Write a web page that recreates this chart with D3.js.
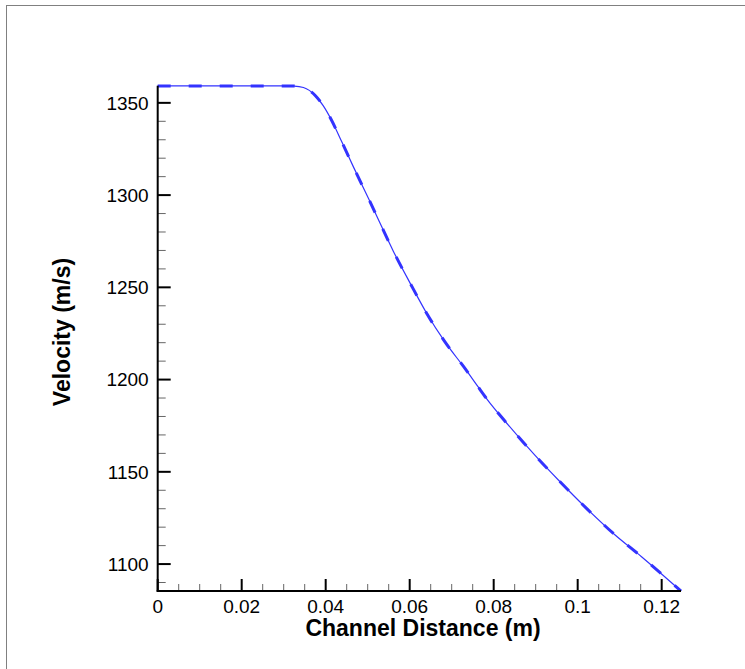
<!DOCTYPE html>
<html lang="en">
<head>
    <meta charset="UTF-8">
    <title>Velocity against Channel Distance</title>
    <script src="https://d3js.org/d3.v7.min.js"></script>
    <style>
        body { margin: 0; background: #fff; }
        .tick-label { font: 19px "Liberation Sans", Arial, sans-serif; fill: #000; }
        .axis-label { font: bold 23px "Liberation Sans", Arial, sans-serif; fill: #000; }
    </style>
</head>
<body>
    <script>
        // channel distance (m) and velocity (m/s)
        const distance = [0, 0.01, 0.02, 0.03, 0.0325, 0.0347, 0.0375, 0.0394, 0.0414, 0.0438,
                          0.0466, 0.0506, 0.0529, 0.0561, 0.0601, 0.0641, 0.0684, 0.0732,
                          0.0763, 0.0783, 0.0835, 0.0898, 0.0958, 0.1021, 0.1085, 0.1152, 0.1246]
        const velocity = [1359.2, 1359.2, 1359.2, 1359.2, 1359.1, 1358.3, 1354.0, 1348.5, 1340.6, 1329.0,
                          1315.3, 1296.2, 1285.0, 1269.6, 1252.3, 1235.7, 1220.4, 1205.9,
                          1196.0, 1189.7, 1175.3, 1159.0, 1144.6, 1130.2, 1116.6, 1104.0, 1085.4]

        const xTicks = [0, 0.02, 0.04, 0.06, 0.08, 0.1, 0.12]
        const xTickLabels = ["0", "0.02", "0.04", "0.06", "0.08", "0.1", "0.12"]
        const yTicks = [1100, 1150, 1200, 1250, 1300, 1350]

        const W = 745, H = 669
        const plotLeft = 157.7, plotRight = 681, plotTop = 85.7, plotBottom = 591

        const svg = d3.select("body").append("svg")
            .attr("width", W)
            .attr("height", H)

        // frame
        svg.append("rect")
            .attr("x", 6.5).attr("y", 5.5)
            .attr("width", W + 20).attr("height", H + 20)
            .attr("fill", "none")
            .attr("stroke", "#808080")
            .attr("stroke-width", 1)

        const x = d3.scaleLinear().domain([0, 0.1246]).range([plotLeft, plotRight])
        const y = d3.scaleLinear().domain([1085.4, 1359.3]).range([plotBottom, plotTop])

        const pts = distance.map((d, i) => [d, velocity[i]])
        const line = d3.line()
            .x(d => x(d[0]))
            .y(d => y(d[1]))
            .curve(d3.curveMonotoneX)

        // solid thin line
        svg.append("path")
            .datum(pts)
            .attr("d", line)
            .attr("fill", "none")
            .attr("stroke", "#3333ff")
            .attr("stroke-width", 1.2)

        // dashed thick line
        svg.append("path")
            .datum(pts)
            .attr("d", line)
            .attr("fill", "none")
            .attr("stroke", "#3333ff")
            .attr("stroke-width", 3)
            .attr("stroke-dasharray", "13,18")

        // minor ticks
        const xMinor = d3.range(0, 0.1246, 0.005).filter(v => xTicks.every(t => Math.abs(t - v) > 1e-6))
        const yMinor = d3.range(1090, 1359.3, 10).filter(v => yTicks.every(t => Math.abs(t - v) > 1e-6))

        svg.append("g").selectAll("line")
            .data(xMinor)
            .enter().append("line")
            .attr("x1", d => x(d)).attr("x2", d => x(d))
            .attr("y1", plotBottom).attr("y2", plotBottom - 7)
            .attr("stroke", "#666").attr("stroke-width", 1)

        svg.append("g").selectAll("line")
            .data(yMinor)
            .enter().append("line")
            .attr("x1", plotLeft).attr("x2", plotLeft + 8)
            .attr("y1", d => y(d)).attr("y2", d => y(d))
            .attr("stroke", "#666").attr("stroke-width", 1)

        // major ticks
        svg.append("g").selectAll("line")
            .data(xTicks)
            .enter().append("line")
            .attr("x1", d => x(d)).attr("x2", d => x(d))
            .attr("y1", plotBottom).attr("y2", plotBottom - 12)
            .attr("stroke", "#000").attr("stroke-width", 2)

        svg.append("g").selectAll("line")
            .data(yTicks)
            .enter().append("line")
            .attr("x1", plotLeft).attr("x2", plotLeft + 13)
            .attr("y1", d => y(d)).attr("y2", d => y(d))
            .attr("stroke", "#000").attr("stroke-width", 2)

        // axis lines
        svg.append("line")
            .attr("x1", plotLeft - 1).attr("x2", plotRight)
            .attr("y1", plotBottom).attr("y2", plotBottom)
            .attr("stroke", "#000").attr("stroke-width", 2)
        svg.append("line")
            .attr("x1", plotLeft).attr("x2", plotLeft)
            .attr("y1", plotTop).attr("y2", plotBottom + 1)
            .attr("stroke", "#000").attr("stroke-width", 2)

        // tick labels
        svg.append("g").selectAll("text")
            .data(xTicks)
            .enter().append("text")
            .attr("class", "tick-label")
            .attr("x", d => x(d))
            .attr("y", 613)
            .attr("text-anchor", "middle")
            .text((d, i) => xTickLabels[i])

        svg.append("g").selectAll("text")
            .data(yTicks)
            .enter().append("text")
            .attr("class", "tick-label")
            .attr("x", plotLeft - 9)
            .attr("y", d => y(d))
            .attr("dy", "0.36em")
            .attr("text-anchor", "end")
            .text(d => d)

        // axis titles
        svg.append("text")
            .attr("class", "axis-label")
            .attr("x", 423)
            .attr("y", 636)
            .attr("text-anchor", "middle")
            .text("Channel Distance (m)")

        svg.append("text")
            .attr("class", "axis-label")
            .attr("transform", "translate(70,332) rotate(-90)")
            .attr("text-anchor", "middle")
            .text("Velocity (m/s)")
    </script>
</body>
</html>
